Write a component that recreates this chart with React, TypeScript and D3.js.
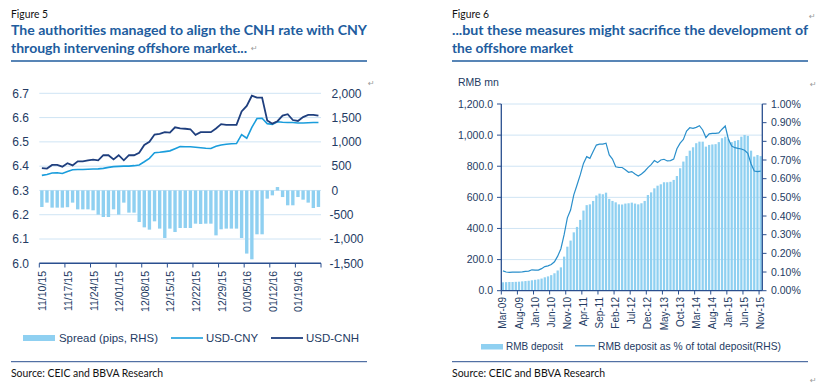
import React from "react";
import * as d3 from "d3";

// ---- Figure 5 data (daily, business days) ----
const fxDates = [
  "11/10/15", "11/11/15", "11/12/15", "11/13/15", "11/16/15",
  "11/17/15", "11/18/15", "11/19/15", "11/20/15", "11/23/15",
  "11/24/15", "11/25/15", "11/26/15", "11/27/15", "11/30/15",
  "12/01/15", "12/02/15", "12/03/15", "12/04/15", "12/07/15",
  "12/08/15", "12/09/15", "12/10/15", "12/11/15", "12/14/15",
  "12/15/15", "12/16/15", "12/17/15", "12/18/15", "12/21/15",
  "12/22/15", "12/23/15", "12/24/15", "12/25/15", "12/28/15",
  "12/29/15", "12/30/15", "12/31/15", "01/01/16", "01/04/16",
  "01/05/16", "01/06/16", "01/07/16", "01/08/16", "01/11/16",
  "01/12/16", "01/13/16", "01/14/16", "01/15/16", "01/18/16",
  "01/19/16", "01/20/16", "01/21/16", "01/22/16", "01/25/16",
];
const fxTickLabels = [
  "11/10/15", "11/17/15", "11/24/15", "12/01/15", "12/08/15", "12/15/15",
  "12/22/15", "12/29/15", "01/05/16", "01/12/16", "01/19/16",
];
const usdCny = [
  6.362, 6.366, 6.372, 6.373, 6.370, 6.378, 6.385, 6.386, 6.386, 6.387,
  6.388, 6.389, 6.391, 6.395, 6.398, 6.399, 6.400, 6.400, 6.402, 6.405,
  6.418, 6.432, 6.455, 6.457, 6.460, 6.463, 6.472, 6.481, 6.480, 6.480,
  6.478, 6.476, 6.474, 6.473, 6.482, 6.487, 6.490, 6.492, 6.493, 6.530,
  6.515, 6.560, 6.596, 6.597, 6.575, 6.572, 6.583, 6.581, 6.580, 6.580,
  6.578, 6.578, 6.579, 6.580, 6.580,
];
const usdCnh = [
  6.392, 6.390, 6.405, 6.405, 6.398, 6.412, 6.403, 6.420, 6.420, 6.424,
  6.427, 6.424, 6.445, 6.445, 6.428, 6.445, 6.424, 6.445, 6.445, 6.455,
  6.487, 6.500, 6.530, 6.533, 6.540, 6.538, 6.560, 6.556, 6.554, 6.552,
  6.529, 6.540, 6.540, 6.540, 6.555, 6.573, 6.570, 6.570, 6.570, 6.625,
  6.648, 6.690, 6.682, 6.682, 6.588, 6.575, 6.585, 6.608, 6.614, 6.590,
  6.586, 6.602, 6.611, 6.611, 6.608,
];
const spread = [
  -341, -251, -354, -354, -354, -345, -251, -389, -389, -389,
  -409, -498, -547, -547, -389, -498, -251, -457, -457, -650,
  -760, -807, -636, -786, -979, -786, -856, -773, -773, -773,
  -684, -690, -684, -684, -925, -800, -786, -786, -786, -979,
  -1300, -1418, -903, -903, -169, -101, 70, -136, -306, -306,
  -136, -190, -251, -362, -340,
];
const fxLeftTicks = [6.0, 6.1, 6.2, 6.3, 6.4, 6.5, 6.6, 6.7];
const fxLeftLabels = ["6.0", "6.1", "6.2", "6.3", "6.4", "6.5", "6.6", "6.7"];
const fxRightTicks = [-1500, -1000, -500, 0, 500, 1000, 1500, 2000];
const fxRightLabels = ["-1,500", "-1,000", "-500", "0", "500", "1,000", "1,500", "2,000"];

// ---- Figure 6 data (monthly) ----
const months = [
  "Mar-09", "Apr-09", "May-09", "Jun-09", "Jul-09", "Aug-09", "Sep-09", "Oct-09", "Nov-09", "Dec-09",
  "Jan-10", "Feb-10", "Mar-10", "Apr-10", "May-10", "Jun-10", "Jul-10", "Aug-10", "Sep-10", "Oct-10", "Nov-10", "Dec-10",
  "Jan-11", "Feb-11", "Mar-11", "Apr-11", "May-11", "Jun-11", "Jul-11", "Aug-11", "Sep-11", "Oct-11", "Nov-11", "Dec-11",
  "Jan-12", "Feb-12", "Mar-12", "Apr-12", "May-12", "Jun-12", "Jul-12", "Aug-12", "Sep-12", "Oct-12", "Nov-12", "Dec-12",
  "Jan-13", "Feb-13", "Mar-13", "Apr-13", "May-13", "Jun-13", "Jul-13", "Aug-13", "Sep-13", "Oct-13", "Nov-13", "Dec-13",
  "Jan-14", "Feb-14", "Mar-14", "Apr-14", "May-14", "Jun-14", "Jul-14", "Aug-14", "Sep-14", "Oct-14", "Nov-14", "Dec-14",
  "Jan-15", "Feb-15", "Mar-15", "Apr-15", "May-15", "Jun-15", "Jul-15", "Aug-15", "Sep-15", "Oct-15", "Nov-15",
];
const monthTickLabels = [
  "Mar-09", "Aug-09", "Jan-10", "Jun-10", "Nov-10", "Apr-11", "Sep-11", "Feb-12", "Jul-12",
  "Dec-12", "May-13", "Oct-13", "Mar-14", "Aug-14", "Jan-15", "Jun-15", "Nov-15",
];
const rmbDeposit = [
  54, 55, 56, 56, 57, 58, 60, 62, 64, 67,
  70, 73, 78, 86, 92, 100, 112, 130, 150, 219,
  283, 322, 375, 410, 455, 515, 550, 555, 577, 612,
  624, 620, 630, 590, 577, 568, 555, 554, 560, 562,
  566, 560, 555, 562, 577, 615, 632, 658, 675, 684,
  697, 697, 700, 712, 737, 787, 830, 866, 900, 922,
  948, 958, 958, 926, 937, 940, 942, 955, 980, 990,
  974, 955, 963, 968, 990, 1001, 995, 900, 862, 872,
  865,
];
const rmbShare = [
  0.106, 0.100, 0.098, 0.099, 0.100, 0.100, 0.101, 0.103, 0.105, 0.112,
  0.110, 0.110, 0.118, 0.129, 0.133, 0.140, 0.155, 0.185, 0.225, 0.300,
  0.390, 0.432, 0.513, 0.566, 0.620, 0.682, 0.718, 0.709, 0.745, 0.780,
  0.785, 0.785, 0.790, 0.727, 0.705, 0.664, 0.660, 0.660, 0.648, 0.634,
  0.638, 0.625, 0.614, 0.625, 0.640, 0.659, 0.675, 0.697, 0.686, 0.700,
  0.704, 0.695, 0.697, 0.705, 0.760, 0.790, 0.810, 0.855, 0.873, 0.870,
  0.875, 0.884, 0.861, 0.820, 0.840, 0.843, 0.843, 0.845, 0.865, 0.882,
  0.810, 0.775, 0.766, 0.762, 0.759, 0.752, 0.736, 0.680, 0.641, 0.638,
  0.640,
];
const depTicks = [0, 200, 400, 600, 800, 1000, 1200];
const depLabels = ["0.0", "200.0", "400.0", "600.0", "800.0", "1,000.0", "1,200.0"];
const shareTicks = [0, 0.1, 0.2, 0.3, 0.4, 0.5, 0.6, 0.7, 0.8, 0.9, 1.0];
const shareLabels = ["0.00%", "0.10%", "0.20%", "0.30%", "0.40%", "0.50%", "0.60%", "0.70%", "0.80%", "0.90%", "1.00%"];

const BAR = "#8fd0f1";
const CNY = "#1a9ddc";
const CNH = "#1f3f7e";
const GRID = "#cfe4f4";
const AXIS = "#2a4f8f";
const TXT = "#243b63";
const TITLE = "#215c9e";
const AX_FONT = "'Liberation Sans', Arial, sans-serif";
const DOC_FONT = "Lato, 'Open Sans', sans-serif";

export default function App() {
  // ---- left chart scales ----
  const xL = d3.scaleBand<string>().domain(fxDates).range([39.3, 321]);
  const yL = d3.scaleLinear().domain([6.0, 6.7]).range([263.3, 93.3]);
  const yLR = d3.scaleLinear().domain([-1500, 2000]).range([263.3, 93.3]);
  const cxL = (i: number) => (xL(fxDates[i]) as number) + xL.bandwidth() / 2;
  const lineL = d3.line<number>().x((d, i) => cxL(i)).y((d) => yL(d));
  const barWL = xL.bandwidth() * 0.66;

  // ---- right chart scales ----
  const xR = d3.scaleBand<string>().domain(months).range([501.3, 762.3]);
  const yD = d3.scaleLinear().domain([0, 1200]).range([290.7, 104]);
  const yS = d3.scaleLinear().domain([0, 1.0]).range([290.7, 104]);
  const cxR = (i: number) => (xR(months[i]) as number) + xR.bandwidth() / 2;
  const lineR = d3.line<number>().x((d, i) => cxR(i)).y((d) => yS(d));
  const barWR = xR.bandwidth() * 0.7;

  const mark = (x: number, y: number) => (
    <text x={x} y={y} fontSize={8} fill="#9a9a9a" fontFamily="'DejaVu Sans', sans-serif">↵</text>
  );

  return (
    <svg width={826} height={387} style={{ position: "absolute", left: 0, top: 0, background: "#fff" }}>
      {/* ===== Figure 5 header ===== */}
      <text x={11} y={18} fontSize={11} fontFamily={DOC_FONT} fill="#111" textLength={37} lengthAdjust="spacingAndGlyphs">Figure 5</text>
      <text x={11} y={35} fontSize={14} fontWeight="bold" fontFamily={DOC_FONT} fill={TITLE} textLength={356} lengthAdjust="spacingAndGlyphs">
        The authorities managed to align the CNH rate with CNY
      </text>
      <text x={11} y={52.5} fontSize={14} fontWeight="bold" fontFamily={DOC_FONT} fill={TITLE} textLength={236} lengthAdjust="spacingAndGlyphs">
        through intervening offshore market...
      </text>
      {mark(251, 51)}
      <line x1={11} x2={367} y1={61} y2={61} stroke={TITLE} strokeWidth={1.5} />

      {/* gridlines */}
      {fxLeftTicks.slice(1).map((t) => (
        <line key={t} x1={39.3} x2={321} y1={yL(t)} y2={yL(t)} stroke={GRID} strokeWidth={1} />
      ))}
      {/* spread bars */}
      {spread.map((v, i) => (
        <rect key={i} x={cxL(i) - barWL / 2} width={barWL}
          y={Math.min(yLR(0), yLR(v))} height={Math.abs(yLR(v) - yLR(0))} fill={BAR} />
      ))}
      <path d={lineL(usdCny) || ""} fill="none" stroke={CNY} strokeWidth={1.6} />
      <path d={lineL(usdCnh) || ""} fill="none" stroke={CNH} strokeWidth={1.8} />
      {/* x axis */}
      <line x1={39.3} x2={321} y1={263.3} y2={263.3} stroke={AXIS} strokeWidth={1.6} />
      {fxDates.map((d, i) => (i % 5 === 0 ? (
        <line key={d} x1={xL(d)} x2={xL(d)} y1={263.3} y2={267.5} stroke={AXIS} strokeWidth={1} />
      ) : null))}
      <line x1={321} x2={321} y1={263.3} y2={267.5} stroke={AXIS} strokeWidth={1} />
      {fxTickLabels.map((lab) => {
        const x = (xL(lab) as number) + xL.bandwidth() / 2 + 0.8;
        return (
          <text key={lab} transform={`translate(${x},271) rotate(-90)`} textAnchor="end" dy="0.35em"
            fontSize={10.5} fontFamily={AX_FONT} fill={TXT}>{lab}</text>
        );
      })}
      {/* y labels */}
      {fxLeftTicks.map((t, i) => (
        <text key={t} x={29} y={yL(t)} dy="0.36em" textAnchor="end" fontSize={12} fontFamily={AX_FONT} fill={TXT}>
          {fxLeftLabels[i]}
        </text>
      ))}
      {fxRightTicks.map((t, i) => (
        <text key={t} x={t < 0 ? 329.5 : 331.5} y={yLR(t)} dy="0.36em" textAnchor="start" fontSize={12} fontFamily={AX_FONT} fill={TXT}>
          {fxRightLabels[i]}
        </text>
      ))}
      {mark(368, 86)}
      {/* legend */}
      <rect x={23} y={335} width={32} height={6} fill={BAR} />
      <text x={59} y={342} fontSize={11.8} fontFamily={AX_FONT} fill={TXT} textLength={99} lengthAdjust="spacingAndGlyphs">Spread (pips, RHS)</text>
      <line x1={171} x2={203} y1={338} y2={338} stroke={CNY} strokeWidth={1.6} />
      <text x={206} y={342} fontSize={11.8} fontFamily={AX_FONT} fill={TXT} textLength={52} lengthAdjust="spacingAndGlyphs">USD-CNY</text>
      <line x1={271} x2={303} y1={338} y2={338} stroke={CNH} strokeWidth={1.8} />
      <text x={306} y={342} fontSize={11.8} fontFamily={AX_FONT} fill={TXT} textLength={53} lengthAdjust="spacingAndGlyphs">USD-CNH</text>
      {/* source */}
      <line x1={11} x2={367} y1={361.7} y2={361.7} stroke={AXIS} strokeWidth={1} />
      <text x={11} y={377} fontSize={11.5} fontFamily={DOC_FONT} fill="#111" textLength={152} lengthAdjust="spacingAndGlyphs">Source: CEIC and BBVA Research</text>

      {/* ===== Figure 6 header ===== */}
      <text x={452} y={18} fontSize={11} fontFamily={DOC_FONT} fill="#111" textLength={37} lengthAdjust="spacingAndGlyphs">Figure 6</text>
      {mark(809, 19)}
      <text x={452} y={35} fontSize={14} fontWeight="bold" fontFamily={DOC_FONT} fill={TITLE} textLength={356} lengthAdjust="spacingAndGlyphs">
        ...but these measures might sacrifice the development of
      </text>
      <text x={452} y={52.5} fontSize={14} fontWeight="bold" fontFamily={DOC_FONT} fill={TITLE} textLength={121} lengthAdjust="spacingAndGlyphs">
        the offshore market
      </text>
      <line x1={452} x2={808} y1={61} y2={61} stroke={TITLE} strokeWidth={1.5} />

      <text x={458} y={86} fontSize={10.5} fontFamily={AX_FONT} fill={TXT}>RMB mn</text>
      {mark(810, 87)}
      {depTicks.slice(1).map((t) => (
        <line key={t} x1={501.3} x2={762.3} y1={yD(t)} y2={yD(t)} stroke={GRID} strokeWidth={1} />
      ))}
      {rmbDeposit.map((v, i) => (
        <rect key={i} x={cxR(i) - barWR / 2} width={barWR} y={yD(v)} height={yD(0) - yD(v)} fill={BAR} />
      ))}
      <path d={lineR(rmbShare) || ""} fill="none" stroke="#2a8fcb" strokeWidth={1.2} />
      {/* axes */}
      <line x1={501.3} x2={501.3} y1={104} y2={290.7} stroke={AXIS} strokeWidth={1.3} />
      {depTicks.map((t, i) => (
        <g key={t}>
          <line x1={497} x2={501.3} y1={yD(t)} y2={yD(t)} stroke={AXIS} strokeWidth={1} />
          <text x={493} y={yD(t)} dy="0.36em" textAnchor="end" fontSize={10.5} fontFamily={AX_FONT} fill={TXT}>{depLabels[i]}</text>
        </g>
      ))}
      <line x1={762.3} x2={762.3} y1={104} y2={290.7} stroke={AXIS} strokeWidth={1.3} />
      {shareTicks.map((t, i) => (
        <g key={t}>
          <line x1={762.3} x2={766.5} y1={yS(t)} y2={yS(t)} stroke={AXIS} strokeWidth={1} />
          <text x={771} y={yS(t)} dy="0.36em" textAnchor="start" fontSize={10.5} fontFamily={AX_FONT} fill={TXT}>{shareLabels[i]}</text>
        </g>
      ))}
      <line x1={501.3} x2={762.3} y1={290.7} y2={290.7} stroke={AXIS} strokeWidth={1.3} />
      {months.map((m, i) => (i % 5 === 0 ? (
        <line key={m} x1={xR(m)} x2={xR(m)} y1={290.7} y2={294.5} stroke={AXIS} strokeWidth={1} />
      ) : null))}
      {monthTickLabels.map((lab) => {
        const x = (xR(lab) as number) + xR.bandwidth() / 2;
        return (
          <text key={lab} transform={`translate(${x},297) rotate(-90)`} textAnchor="end" dy="0.35em"
            fontSize={10} fontFamily={AX_FONT} fill={TXT}>{lab}</text>
        );
      })}
      {/* legend */}
      <rect x={481} y={344} width={22} height={5.5} fill={BAR} />
      <text x={506} y={349.5} fontSize={10.5} fontFamily={AX_FONT} fill={TXT} textLength={57} lengthAdjust="spacingAndGlyphs">RMB deposit</text>
      <line x1={575} x2={595} y1={345.8} y2={345.8} stroke="#2a8fcb" strokeWidth={1.2} />
      <text x={598} y={349.5} fontSize={10.5} fontFamily={AX_FONT} fill={TXT} textLength={183} lengthAdjust="spacingAndGlyphs">
        RMB deposit as % of total deposit(RHS)
      </text>
      {/* source */}
      <line x1={452} x2={808} y1={361.7} y2={361.7} stroke={AXIS} strokeWidth={1} />
      <text x={452} y={377} fontSize={11.5} fontFamily={DOC_FONT} fill="#111" textLength={153} lengthAdjust="spacingAndGlyphs">Source: CEIC and BBVA Research</text>
      {mark(810, 383)}
    </svg>
  );
}
